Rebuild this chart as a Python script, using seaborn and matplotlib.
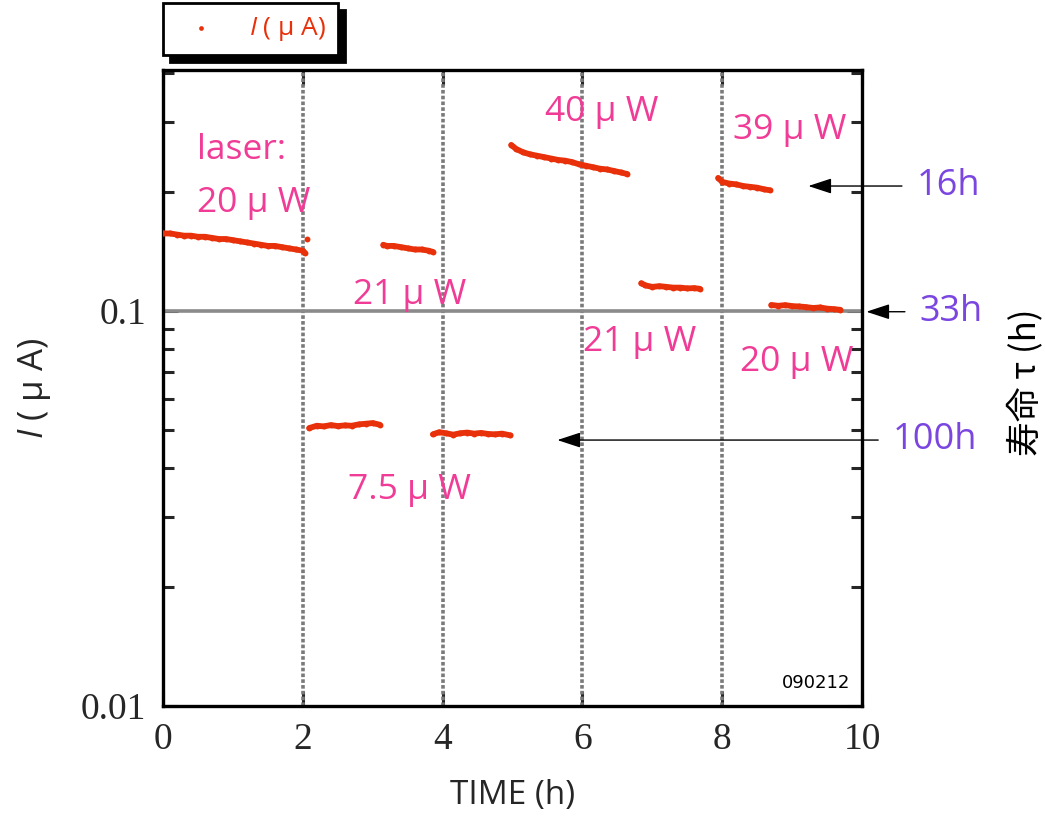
import numpy as np
import pandas as pd
import matplotlib
matplotlib.use("Agg")
import matplotlib.pyplot as plt
from matplotlib.ticker import FixedLocator, FuncFormatter, LogLocator, NullFormatter
import seaborn as sns

# --- photocurrent segments: time (h) and current (uA) ---
t1 = [0.0, 0.1, 0.2, 0.3, 0.4, 0.5, 0.6, 0.7, 0.8, 0.9, 1.0, 1.1, 1.2, 1.3, 1.4,
      1.5, 1.6, 1.7, 1.8, 1.9, 2.0, 2.03]
i1 = [0.157, 0.157, 0.156, 0.155, 0.155, 0.154, 0.154, 0.153, 0.152, 0.152, 0.151,
      0.150, 0.149, 0.148, 0.147, 0.146, 0.146, 0.145, 0.144, 0.143, 0.142, 0.140]
t_glitch = [2.06]
i_glitch = [0.152]
t2 = [3.15, 3.2, 3.3, 3.4, 3.5, 3.6, 3.7, 3.8, 3.86]
i2 = [0.147, 0.146, 0.146, 0.145, 0.144, 0.143, 0.143, 0.142, 0.141]
t3 = [2.09, 2.2, 2.3, 2.4, 2.5, 2.6, 2.7, 2.8, 2.9, 3.0, 3.1]
i3 = [0.0505, 0.0512, 0.0510, 0.0514, 0.0511, 0.0513, 0.0512, 0.0516, 0.0518,
      0.0520, 0.0515]
t4 = [3.86, 3.95, 4.05, 4.15, 4.25, 4.35, 4.45, 4.55, 4.65, 4.75, 4.85, 4.97]
i4 = [0.0487, 0.0493, 0.0490, 0.0486, 0.0490, 0.0492, 0.0489, 0.0491, 0.0488,
      0.0487, 0.0489, 0.0484]
t5 = [4.98, 5.05, 5.15, 5.25, 5.35, 5.45, 5.55, 5.65, 5.75, 5.85, 5.95, 6.05,
      6.15, 6.25, 6.35, 6.45, 6.55, 6.64]
i5 = [0.263, 0.257, 0.252, 0.249, 0.247, 0.245, 0.243, 0.241, 0.240, 0.238,
      0.235, 0.233, 0.231, 0.229, 0.228, 0.226, 0.224, 0.222]
t6 = [6.84, 6.9, 7.0, 7.1, 7.2, 7.3, 7.4, 7.5, 7.6, 7.68]
i6 = [0.1175, 0.1160, 0.1150, 0.1155, 0.1150, 0.1145, 0.1145, 0.1140, 0.1142, 0.1137]
t7 = [7.94, 8.0, 8.1, 8.2, 8.3, 8.4, 8.5, 8.6, 8.68]
i7 = [0.217, 0.212, 0.210, 0.209, 0.207, 0.206, 0.205, 0.203, 0.202]
t8 = [8.70, 8.8, 8.9, 9.0, 9.1, 9.2, 9.3, 9.4, 9.5, 9.6, 9.69]
i8 = [0.1035, 0.1030, 0.1034, 0.1028, 0.1026, 0.1022, 0.1017, 0.1020, 0.1013,
      0.1010, 0.1006]

# --- laser power labels (text, time, current) ---
power_labels = ["laser:", "20 μ W", "21 μ W", "7.5 μ W", "40 μ W", "21 μ W",
                "39 μ W", "20 μ W"]
power_x = [0.49, 0.49, 3.53, 3.53, 6.27, 6.82, 8.96, 9.07]
power_y = [0.256, 0.187, 0.1098, 0.0352, 0.319, 0.0835, 0.287, 0.0743]
power_ha = ["left", "left", "center", "center", "center", "center", "center", "center"]

# --- lifetime markers (text, arrow tip time, current, text time) ---
life_labels = ["16h", "33h", "100h"]
life_tip_x = [9.23, 10.06, 5.64]
life_y = [0.207, 0.0995, 0.0471]
life_text_x = [11.23, 11.27, 11.04]

x_ticks = [0, 2, 4, 6, 8, 10]
grid_x = [2, 4, 6, 8]
ref_level = 0.1

RED = "#e8300a"
PINK = "#f03c96"
PURPLE = "#7b45e0"

sns.set_style("ticks")
plt.rcParams["font.family"] = ["Open Sans", "Noto Sans CJK JP", "DejaVu Sans"]
plt.rcParams["mathtext.fontset"] = "custom"
plt.rcParams["mathtext.it"] = "Open Sans:italic"
plt.rcParams["mathtext.rm"] = "Open Sans"

segments = [(t1, i1), (t_glitch, i_glitch), (t2, i2), (t3, i3), (t4, i4),
            (t5, i5), (t6, i6), (t7, i7), (t8, i8)]
frames = []
for k, (t, i) in enumerate(segments):
    frames.append(pd.DataFrame({"time": t, "current": i, "segment": k}))
df = pd.concat(frames, ignore_index=True)

fig = plt.figure(figsize=(10.45, 8.17), dpi=100)
ax = fig.add_axes([0.156, 0.1359, 0.669, 0.7784])

ax.set_yscale("log")
ax.set_xlim(0, 10)
ax.set_ylim(0.01, 0.407)

# reference guides
for gx in grid_x:
    ax.axvline(gx, color="#7a7a7a", lw=2.6, ls=(0, (1.0, 0.6)), zorder=1)
ax.axhline(ref_level, color="#8a8a8a", lw=2.6, zorder=1)

sns.lineplot(data=df, x="time", y="current", units="segment", estimator=None,
             color=RED, lw=4.2, ax=ax, legend=False, zorder=3)
sns.scatterplot(data=df, x="time", y="current", color=RED, s=18, linewidth=0,
                ax=ax, zorder=4, label="$I$ ( μ A)")

# axes styling
for sp in ax.spines.values():
    sp.set_linewidth(2.4)
    sp.set_color("black")
    sp.set_visible(True)

ax.xaxis.set_major_locator(FixedLocator(x_ticks))
ax.yaxis.set_major_locator(LogLocator(base=10, numticks=10))
ax.yaxis.set_minor_locator(LogLocator(base=10, subs=np.arange(2, 10), numticks=20))
ax.yaxis.set_major_formatter(FuncFormatter(lambda v, p: f"{v:g}"))
ax.yaxis.set_minor_formatter(NullFormatter())
ax.tick_params(axis="both", which="major", direction="in", length=11, width=2.2,
               top=True, right=True, labelsize=27, pad=12)
ax.tick_params(axis="both", which="minor", direction="in", length=8, width=2.2,
               top=True, right=True)
for lab in ax.get_xticklabels() + ax.get_yticklabels():
    lab.set_fontfamily("Liberation Serif")

ax.set_xlabel("TIME (h)", fontsize=24, labelpad=16)
ax.set_ylabel("$I$ ( μ A)", fontsize=25, labelpad=20)

# laser power annotations
for txt, x, y, ha in zip(power_labels, power_x, power_y, power_ha):
    ax.text(x, y, txt, color=PINK, fontsize=25.5, ha=ha, va="center", zorder=5)

# lifetime arrows
for txt, tx, y, lx in zip(life_labels, life_tip_x, life_y, life_text_x):
    ax.annotate(txt, xy=(tx, y), xytext=(lx, y), xycoords="data", textcoords="data",
                color=PURPLE, fontsize=26, ha="center", va="center",
                annotation_clip=False,
                arrowprops=dict(arrowstyle="-|>,head_length=0.55,head_width=0.18",
                                color="black", lw=1.0, shrinkA=8, shrinkB=0))

ax.text(0.983, 0.022, "090212", transform=ax.transAxes, fontsize=13,
        ha="right", va="bottom", family="DejaVu Sans", color="black")

fig.text(0.981, 0.532, "寿命 τ (h)", rotation=90, fontsize=25, ha="center",
         va="center", color="black", family=["Noto Sans CJK JP", "DejaVu Sans"])

handles, labels = ax.get_legend_handles_labels()
if ax.get_legend():
    ax.get_legend().remove()
leg = fig.legend(handles, labels, loc="upper left", bbox_to_anchor=(0.156, 0.996),
                 borderaxespad=0, frameon=True, fancybox=False,
                 shadow={"color": "black", "alpha": 1.0, "ox": 5, "oy": -5},
                 fontsize=19, labelcolor=RED, markerscale=0.8,
                 handletextpad=0.8, borderpad=0.45, handlelength=2.0)
leg.get_frame().set_edgecolor("black")
leg.get_frame().set_linewidth(2.0)

fig.savefig("out.png", dpi=100)
